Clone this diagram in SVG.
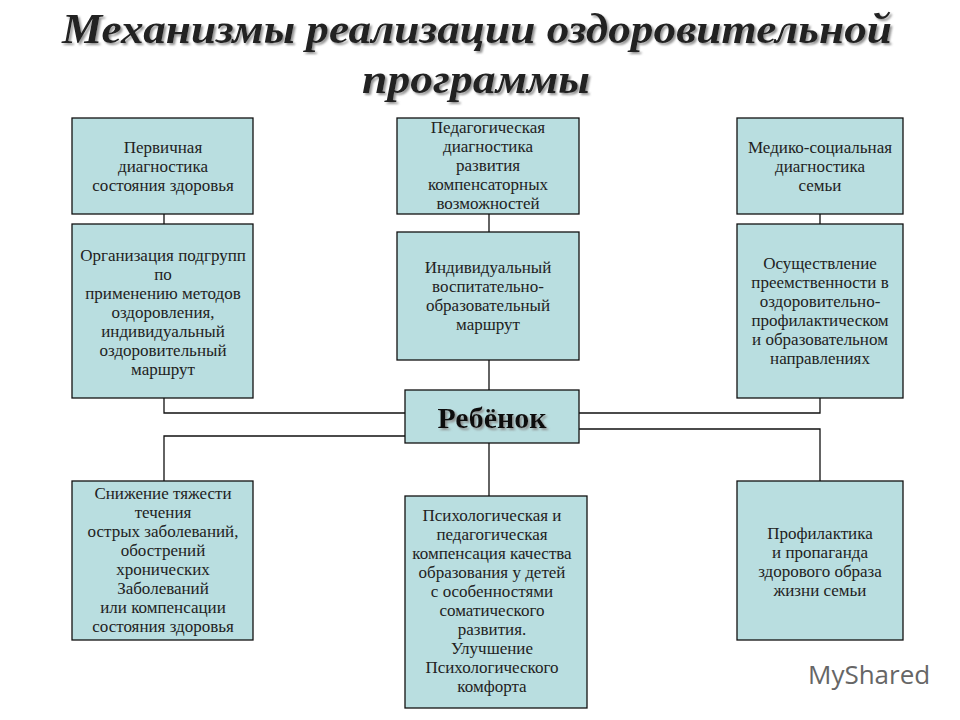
<svg xmlns="http://www.w3.org/2000/svg" width="960" height="720" viewBox="0 0 960 720">
<defs>
<filter id="sh" x="-5%" y="-20%" width="110%" height="150%"><feDropShadow dx="2" dy="2" stdDeviation="0.8" flood-color="#888" flood-opacity="0.9"/></filter>
</defs>
<style>
.b{fill:#b9dee0;stroke:#111;stroke-width:1.3}
.t{font-family:"Liberation Serif",serif;font-size:17px;fill:#222;text-anchor:middle}
.c{fill:none;stroke:#111;stroke-width:1.3}
.h{font-family:"Liberation Serif",serif;font-size:42px;font-weight:bold;font-style:italic;text-anchor:middle;fill:#222;filter:url(#sh)}
</style>
<rect width="960" height="720" fill="#fff"/>
<g id="title">
<text class="h" x="477" y="43" textLength="830" lengthAdjust="spacingAndGlyphs">Механизмы реализации оздоровительной</text>
<text class="h" x="476" y="93" textLength="228" lengthAdjust="spacingAndGlyphs">программы</text>
</g>
<g id="connectors">
<path class="c" d="M164 214V224M489 214V232M820 214V224M489 360V390M164 398V413H405M579 413H820V398M405 436H164V481M579 429H820V481M489 443V496"/>
</g>
<g id="n1"><rect class="b" x="72" y="118" width="181" height="96"/>
<text class="t" y="153"><tspan x="163">Первичная</tspan><tspan x="163" dy="19">диагностика</tspan><tspan x="163" dy="19">состояния здоровья</tspan></text></g>
<g id="n2"><rect class="b" x="397" y="118" width="182" height="96"/>
<text class="t" y="133"><tspan x="488">Педагогическая</tspan><tspan x="488" dy="19">диагностика</tspan><tspan x="488" dy="19">развития</tspan><tspan x="488" dy="19">компенсаторных</tspan><tspan x="488" dy="19">возможностей</tspan></text></g>
<g id="n3"><rect class="b" x="737" y="118" width="166" height="96"/>
<text class="t" y="153"><tspan x="820">Медико-социальная</tspan><tspan x="820" dy="19">диагностика</tspan><tspan x="820" dy="19">семьи</tspan></text></g>
<g id="n4"><rect class="b" x="72" y="224" width="181" height="174"/>
<text class="t" y="261"><tspan x="163">Организация подгрупп</tspan><tspan x="163" dy="19">по</tspan><tspan x="163" dy="19">применению методов</tspan><tspan x="163" dy="19">оздоровления,</tspan><tspan x="163" dy="19">индивидуальный</tspan><tspan x="163" dy="19">оздоровительный</tspan><tspan x="163" dy="19">маршрут</tspan></text></g>
<g id="n5"><rect class="b" x="397" y="232" width="182" height="128"/>
<text class="t" y="273"><tspan x="488">Индивидуальный</tspan><tspan x="488" dy="19">воспитательно-</tspan><tspan x="488" dy="19">образовательный</tspan><tspan x="488" dy="19">маршрут</tspan></text></g>
<g id="n6"><rect class="b" x="737" y="224" width="166" height="174"/>
<text class="t" y="269"><tspan x="820">Осуществление</tspan><tspan x="820" dy="19">преемственности в</tspan><tspan x="820" dy="19">оздоровительно-</tspan><tspan x="820" dy="19">профилактическом</tspan><tspan x="820" dy="19">и образовательном</tspan><tspan x="820" dy="19">направлениях</tspan></text></g>
<g id="child"><rect class="b" x="405" y="390" width="174" height="53"/>
<text x="492" y="428" font-family="Liberation Serif,serif" font-size="30" font-weight="bold" text-anchor="middle" fill="#111" filter="url(#sh)">Ребёнок</text></g>
<g id="n7"><rect class="b" x="72" y="481" width="181" height="159"/>
<text class="t" y="499"><tspan x="163">Снижение тяжести</tspan><tspan x="163" dy="19">течения</tspan><tspan x="163" dy="19">острых заболеваний,</tspan><tspan x="163" dy="19">обострений</tspan><tspan x="163" dy="19">хронических</tspan><tspan x="163" dy="19">Заболеваний</tspan><tspan x="163" dy="19">или компенсации</tspan><tspan x="163" dy="19">состояния здоровья</tspan></text></g>
<g id="n8"><rect class="b" x="405" y="496" width="182" height="212"/>
<text class="t" y="521"><tspan x="492">Психологическая и</tspan><tspan x="492" dy="19">педагогическая</tspan><tspan x="492" dy="19">компенсация качества</tspan><tspan x="492" dy="19">образования у детей</tspan><tspan x="492" dy="19">с особенностями</tspan><tspan x="492" dy="19">соматического</tspan><tspan x="492" dy="19">развития.</tspan><tspan x="492" dy="19">Улучшение</tspan><tspan x="492" dy="19">Психологического</tspan><tspan x="492" dy="19">комфорта</tspan></text></g>
<g id="n9"><rect class="b" x="737" y="481" width="166" height="159"/>
<text class="t" y="539"><tspan x="820">Профилактика</tspan><tspan x="820" dy="19">и пропаганда</tspan><tspan x="820" dy="19">здорового образа</tspan><tspan x="820" dy="19">жизни семьи</tspan></text></g>
<g id="watermark"><text x="808" y="684" font-family="Open Sans,sans-serif" font-size="26" fill="#666">MyShared</text></g>
</svg>
